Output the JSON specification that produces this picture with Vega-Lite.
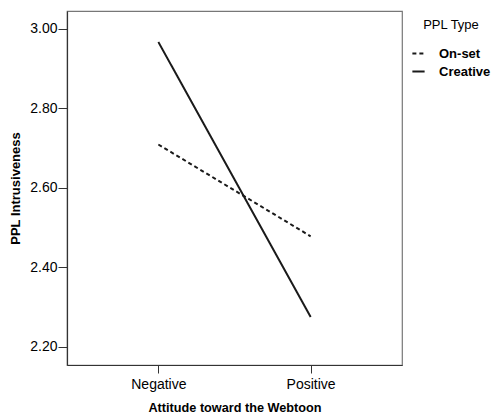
{
  "$schema": "https://vega.github.io/schema/vega-lite/v6.json",
  "autosize": "none",
  "width": 335,
  "height": 354,
  "padding": {"left": 67, "top": 11, "right": 92, "bottom": 51},
  "background": "white",
  "config": {
    "font": "Liberation Sans",
    "view": {"stroke": "#777777", "strokeWidth": 1.2},
    "axis": {"domainColor": "#333333", "tickColor": "#333333", "labelColor": "#000000", "titleColor": "#000000", "grid": false}
  },
  "data": {
    "values": [
      {"attitude": "Negative", "type": "On-set", "value": 2.709},
      {"attitude": "Positive", "type": "On-set", "value": 2.478},
      {"attitude": "Negative", "type": "Creative", "value": 2.967},
      {"attitude": "Positive", "type": "Creative", "value": 2.275}
    ]
  },
  "mark": {"type": "line", "color": "#1a1a1a", "strokeWidth": 2},
  "encoding": {
    "x": {
      "field": "attitude", "type": "ordinal",
      "scale": {"type": "point", "padding": 0.6},
      "axis": {"title": "Attitude toward the Webtoon", "labelAngle": 0, "labelFontSize": 14, "labelPadding": 4, "tickSize": 8, "titleFontSize": 12.7, "titleFontWeight": "bold", "titlePadding": 10, "domainWidth": 1.2}
    },
    "y": {
      "field": "value", "type": "quantitative",
      "scale": {"domain": [2.154, 3.045], "nice": false, "zero": false},
      "axis": {"title": "PPL Intrusiveness", "values": [2.2, 2.4, 2.6, 2.8, 3.0], "format": ".2f", "labelFontSize": 14, "labelPadding": 1, "tickSize": 9, "titleFontSize": 13, "titleFontWeight": "bold", "titlePadding": 7, "domainWidth": 1.2}
    },
    "strokeDash": {
      "field": "type", "type": "nominal",
      "scale": {"domain": ["On-set", "Creative"], "range": [[4, 3], [1, 0]]},
      "legend": {
        "title": "PPL Type", "orient": "none", "legendX": 344, "legendY": 8,
        "titleFontSize": 13, "titleFontWeight": "normal", "titleColor": "#000000", "titlePadding": 14, "titleAnchor": "middle",
        "labelFontSize": 13, "labelFontWeight": "bold", "labelColor": "#000000",
        "symbolType": "stroke", "symbolSize": 150, "symbolStrokeColor": "#1a1a1a", "symbolStrokeWidth": 1.8,
        "rowPadding": 3, "labelOffset": 13
      }
    }
  }
}
